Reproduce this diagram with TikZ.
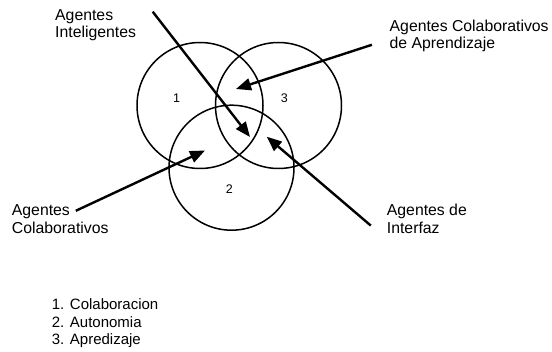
\documentclass[tikz,border=0pt]{standalone}
\usepackage{fontspec}
\setmainfont{Liberation Sans}
\usetikzlibrary{arrows.meta}
\begin{document}
\begin{tikzpicture}[x=1pt,y=-1pt,
  venn/.style={draw=black,line width=1.5pt},
  lbl/.style={anchor=base west,inner sep=0pt,font=\fontsize{15.8}{17}\selectfont},
  leg/.style={anchor=base west,inner sep=0pt,font=\fontsize{15}{17}\selectfont},
  num/.style={inner sep=0pt,font=\fontsize{12.5}{15}\selectfont},
  pointer/.style={line width=2.4pt,-{Triangle[length=15pt,width=12pt]}}]
\useasboundingbox (0,0) rectangle (552,352);
% circles
\node[venn,circle,minimum size=126pt,inner sep=0pt] (c1) at (200,105.5) {};
\node[venn,circle,minimum size=126pt,inner sep=0pt] (c3) at (278.5,105.5) {};
\node[venn,circle,minimum size=125pt,inner sep=0pt] (c2) at (231.5,167.7) {};
% numbers
\node[num] (n1) at (176.7,98.3) {1};
\node[num] (n3) at (284.3,98.3) {3};
\node[num] (n2) at (229.3,189.3) {2};
% labels
\node[lbl] (l1a) at (55,20.7) {Agentes};
\node[lbl] (l1b) at (55,37.5) {Inteligentes};
\node[lbl] (l2a) at (389.5,31.7) {Agentes Colaborativos};
\node[lbl] (l2b) at (389.5,49) {de Aprendizaje};
\node[lbl] (l3a) at (11.7,215.7) {Agentes};
\node[lbl] (l3b) at (11.7,233.5) {Colaborativos};
\node[lbl] (l4a) at (386.7,215.7) {Agentes de};
\node[lbl] (l4b) at (386.7,233.3) {Interfaz};
% legend
\node[leg] (g1) at (51.7,310) {1. Colaboracion};
\node[leg] (g2) at (51.7,327.3) {2. Autonomia};
\node[leg] (g3) at (51.7,344.3) {3. Apredizaje};
% arrow ends
\coordinate (s1) at (152.7,11.7);
\coordinate (t1) at (250,137);
\coordinate (s2) at (371.9,44.8);
\coordinate (t2) at (236,89);
\coordinate (s3) at (75.8,210.8);
\coordinate (t3) at (205,150.5);
\coordinate (s4) at (370.8,225.6);
\coordinate (t4) at (266.7,136.7);
\draw[pointer] (s1) -- (t1);
\draw[pointer] (s2) -- (t2);
\draw[pointer] (s3) -- (t3);
\draw[pointer] (s4) -- (t4);
\end{tikzpicture}
\end{document}
